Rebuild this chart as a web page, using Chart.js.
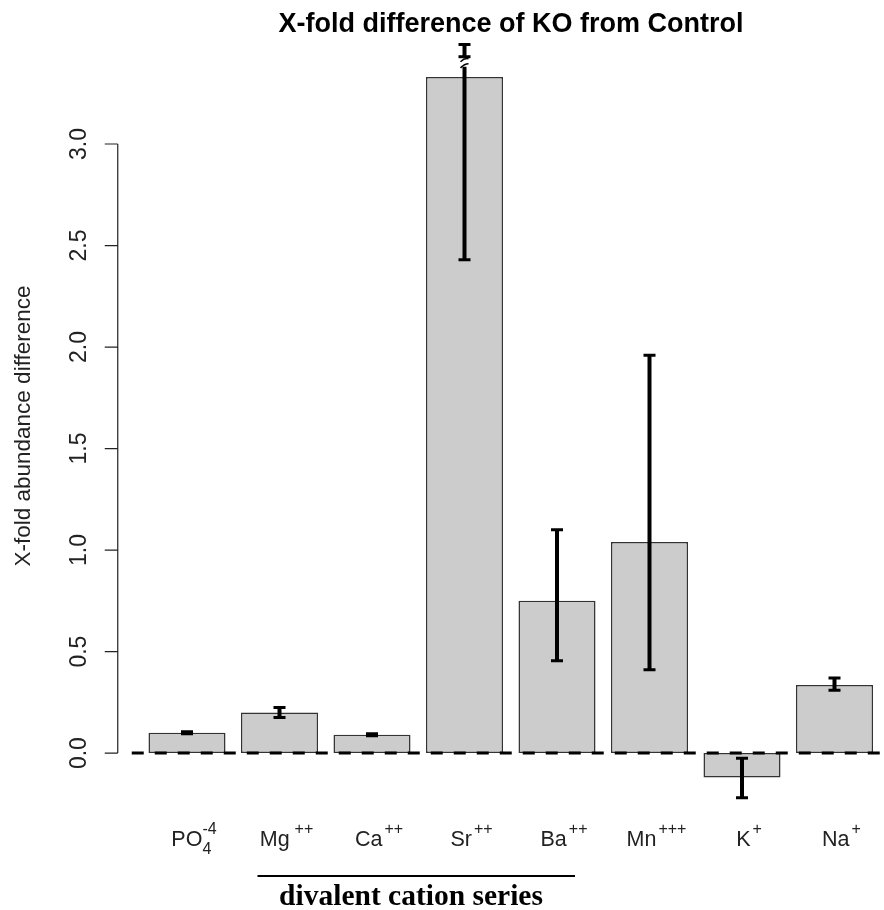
<!DOCTYPE html>
<html>
<head>
<meta charset="utf-8">
<script src="https://cdn.jsdelivr.net/npm/chart.js@4.4.1/dist/chart.umd.min.js"></script>
<style>
  html, body { margin: 0; padding: 0; background: #fff; overflow: hidden; }
  #wrap { width: 884px; height: 910px; }
</style>
</head>
<body>
<div id="wrap"><canvas id="grafico" width="884" height="910"></canvas></div>
<script>
// dados
var ions = ['PO', 'Mg', 'Ca', 'Sr', 'Ba', 'Mn', 'K', 'Na'];
var ionSub = ['4', '', '', '', '', '', '', ''];
var ionSup = ['-4', '++', '++', '++', '++', '+++', '+', '+'];
var foldDiff = [0.10, 0.20, 0.09, 3.33, 0.75, 1.04, -0.12, 0.335];
var errLow = [0.095, 0.175, 0.085, 2.43, 0.455, 0.41, -0.22, 0.31];
var errHigh = [0.105, 0.225, 0.095, 3.49, 1.10, 1.96, -0.025, 0.37];
var yTicks = [0, 0.5, 1.0, 1.5, 2.0, 2.5, 3.0];
var yTickLabels = ['0.0', '0.5', '1.0', '1.5', '2.0', '2.5', '3.0'];
var titulo = 'X-fold difference of KO from Control';
var yTitulo = 'X-fold abundance difference';
var grupo = 'divalent cation series';
var grupoIons = [1, 4]; // Mg ate Ba

var sans = '"Liberation Sans", Arial, sans-serif';
var serif = '"Liberation Serif", "Times New Roman", serif';

// desenha eixos, barras de erro, linha do zero e textos
var extras = {
    id: 'extras',
    afterDatasetsDraw: function (chart) {
        var ctx = chart.ctx;
        var x = chart.scales.x;
        var y = chart.scales.y;
        var area = chart.chartArea;
        ctx.save();

        // linha tracejada no zero
        var y0 = y.getPixelForValue(0);
        ctx.strokeStyle = '#000';
        ctx.lineWidth = 3;
        ctx.setLineDash([12, 11]);
        ctx.beginPath();
        ctx.moveTo(area.left - 9, y0);
        ctx.lineTo(chart.width, y0);
        ctx.stroke();
        ctx.setLineDash([]);

        // barras de erro
        for (var i = 0; i < foldDiff.length; i++) {
            var cx = x.getPixelForValue(i);
            var yl = y.getPixelForValue(errLow[i]);
            var yh = y.getPixelForValue(errHigh[i]);
            ctx.lineWidth = 4;
            if (i == 3) {
                // Sr: barra quebrada perto do topo
                var b1 = y.getPixelForValue(3.43);
                var b2 = y.getPixelForValue(3.38);
                ctx.beginPath();
                ctx.moveTo(cx, yh); ctx.lineTo(cx, b1);
                ctx.moveTo(cx, b2); ctx.lineTo(cx, yl);
                ctx.stroke();
                ctx.lineWidth = 3;
                ctx.beginPath();
                ctx.moveTo(cx - 6, b1); ctx.lineTo(cx + 6, b1);
                ctx.stroke();
                ctx.lineWidth = 1.5;
                ctx.beginPath();
                ctx.moveTo(cx - 4, b1 + 5); ctx.quadraticCurveTo(cx, b1 + 1, cx + 4, b1 + 2);
                ctx.moveTo(cx - 4, b2 + 1); ctx.quadraticCurveTo(cx, b2 - 3, cx + 4, b2 - 3);
                ctx.stroke();
            } else {
                ctx.beginPath();
                ctx.moveTo(cx, yl); ctx.lineTo(cx, yh);
                ctx.stroke();
            }
            ctx.lineWidth = 3;
            ctx.beginPath();
            ctx.moveTo(cx - 6, yl); ctx.lineTo(cx + 6, yl);
            ctx.moveTo(cx - 6, yh); ctx.lineTo(cx + 6, yh);
            ctx.stroke();
        }

        // eixo y
        var ax = area.left - 23;
        ctx.lineWidth = 1.2;
        ctx.strokeStyle = '#222';
        ctx.beginPath();
        ctx.moveTo(ax, y.getPixelForValue(yTicks[0]));
        ctx.lineTo(ax, y.getPixelForValue(yTicks[yTicks.length - 1]));
        for (var t = 0; t < yTicks.length; t++) {
            var ty = y.getPixelForValue(yTicks[t]);
            ctx.moveTo(ax - 13, ty); ctx.lineTo(ax, ty);
        }
        ctx.stroke();
        ctx.fillStyle = '#222';
        ctx.font = '23px ' + sans;
        ctx.textAlign = 'center';
        ctx.textBaseline = 'middle';
        for (var t = 0; t < yTicks.length; t++) {
            ctx.save();
            ctx.translate(ax - 38, y.getPixelForValue(yTicks[t]));
            ctx.rotate(-Math.PI / 2);
            ctx.fillText(yTickLabels[t], 0, 0);
            ctx.restore();
        }
        ctx.save();
        ctx.translate(24, 426);
        ctx.rotate(-Math.PI / 2);
        ctx.font = '22.5px ' + sans;
        ctx.fillText(yTitulo, 0, 0);
        ctx.restore();

        // titulo
        ctx.fillStyle = '#000';
        ctx.font = 'bold 27px ' + sans;
        ctx.textBaseline = 'alphabetic';
        ctx.fillText(titulo, 511, 32);

        // rotulos das categorias com sub/sobrescrito
        ctx.fillStyle = '#222';
        ctx.textAlign = 'left';
        var base = 846;
        for (var i = 0; i < ions.length; i++) {
            ctx.font = '21.5px ' + sans;
            var wMain = ctx.measureText(ions[i]).width;
            ctx.font = '16px ' + sans;
            var wSub = ionSub[i] ? ctx.measureText(ionSub[i]).width : 0;
            var wSup = ctx.measureText(ionSup[i]).width;
            var gap = ionSub[i] ? 0 : (ions[i] == 'Mg' ? 5 : 2);
            var tot = wMain + gap + Math.max(wSub, wSup);
            var sx = x.getPixelForValue(i) - tot / 2 + 7;
            ctx.font = '21.5px ' + sans;
            ctx.fillText(ions[i], sx, base);
            ctx.font = '16px ' + sans;
            if (ionSub[i]) ctx.fillText(ionSub[i], sx + wMain, base + 8);
            ctx.fillText(ionSup[i], sx + wMain + gap, base - 12);
        }

        // serie dos cations divalentes
        var gx1 = x.getPixelForValue(grupoIons[0]) - 22;
        var gx2 = x.getPixelForValue(grupoIons[1]) + 18;
        ctx.strokeStyle = '#000';
        ctx.lineWidth = 2;
        ctx.beginPath();
        ctx.moveTo(gx1, 876); ctx.lineTo(gx2, 876);
        ctx.stroke();
        ctx.fillStyle = '#000';
        ctx.font = 'bold 29.5px ' + serif;
        ctx.textAlign = 'center';
        ctx.fillText(grupo, 411, 905);

        ctx.restore();
    }
};

var ctx = document.getElementById('grafico').getContext('2d');
var myChart = new Chart(ctx, {
    type: 'bar',
    data: {
        labels: ions,
        datasets: [
            {
                label: 'X-fold',
                data: foldDiff,
                backgroundColor: '#cccccc',
                borderColor: '#333333',
                borderWidth: 1.5,
                borderSkipped: false,
                barPercentage: 0.833,
                categoryPercentage: 1.0
            }
        ]
    },
    options: {
        responsive: false,
        animation: false,
        devicePixelRatio: 1,
        layout: {
            padding: { left: 140.75, right: 3.25, top: 42.5, bottom: 96 }
        },
        plugins: {
            legend: { display: false },
            title: { display: false },
            tooltip: { enabled: false }
        },
        scales: {
            x: { display: false, offset: true },
            y: { display: false, min: -0.3, max: 3.5 }
        }
    },
    plugins: [extras]
});
</script>
</body>
</html>
